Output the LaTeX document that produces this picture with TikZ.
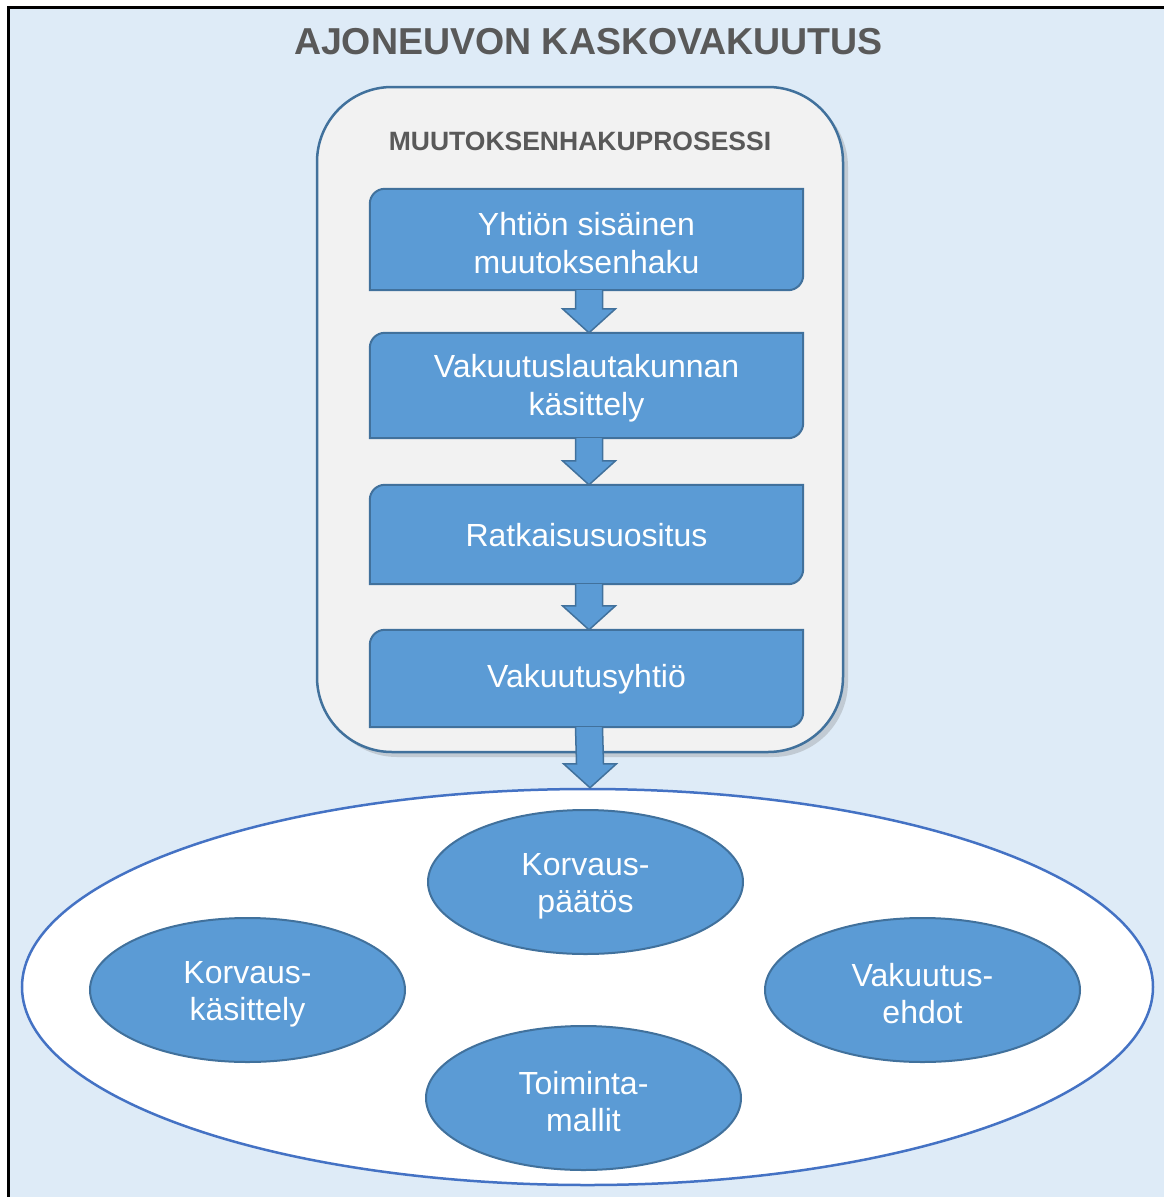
\documentclass[tikz,border=0pt]{standalone}
\usepackage{fontspec}
\setmainfont{Liberation Sans}
\usetikzlibrary{shapes.geometric,shadows,calc}
\definecolor{bgblue}{RGB}{222,235,247}
\definecolor{panelgray}{RGB}{242,242,242}
\definecolor{boxblue}{RGB}{91,155,213}
\definecolor{boxline}{RGB}{65,113,156}
\definecolor{ringline}{RGB}{68,114,196}
\definecolor{titlegray}{RGB}{89,89,89}
\tikzset{
  boxtext/.style={inner sep=0pt,minimum width=433pt,align=center,text=white,font=\fontsize{32}{38}\selectfont},
  boxshape/.style={fill=boxblue,draw=boxline,line width=2pt},
  blockarrow/.style={fill=boxblue,draw=boxline,line width=1.5pt,line join=miter},
  ovalnode/.style={ellipse,fill=boxblue,draw=boxline,line width=2pt,minimum width=315pt,minimum height=144pt,inner sep=0pt},
  ovaltext/.style={align=center,text=white,inner sep=0pt,font=\fontsize{32}{37}\selectfont}
}
\begin{document}
\begin{tikzpicture}[x=1pt,y=-1pt]
			\useasboundingbox (0,0) rectangle (1164,1197);
			
			%Background frame
			\fill[bgblue] (8,7) rectangle (1164,1197);
			\draw[line width=3pt] (8,1197) -- (8,7) -- (1164,7);
			
			% Title
			\node[text=titlegray,font=\fontsize{37.5}{44}\bfseries] (title) at (588.5,42) {AJONEUVON KASKOVAKUUTUS};
			
			%Rounded panel
			\node[draw=boxline,fill=panelgray,line width=2.5pt,rounded corners=75pt,minimum width=526pt,minimum height=665pt,drop shadow={opacity=0.3,shadow xshift=5pt,shadow yshift=-5pt}] (panel) at (580,419.5) {};
			\node[text=titlegray,font=\fontsize{26.5}{30}\bfseries] (subtitle) at (580,141) {MUUTOKSENHAKUPROSESSI};
			
			% Process boxes
			\node[boxtext,minimum height=101pt] (yhtio) at (586.5,239.5) {};
			\node[boxtext,minimum height=105pt] (lauta) at (586.5,385.5) {};
			\node[boxtext,minimum height=99pt] (ratk) at (586.5,534.5) {};
			\node[boxtext,minimum height=97pt] (yhtiot) at (586.5,678.5) {};
			\foreach \b in {yhtio,lauta,ratk,yhtiot}{
				\draw[boxshape] (\b.south west) -- ($(\b.north west)+(0,15)$) .. controls ($(\b.north west)+(0,6.7)$) and ($(\b.north west)+(6.7,0)$) .. ($(\b.north west)+(15,0)$) -- (\b.north east) -- ($(\b.south east)+(0,-15)$) .. controls ($(\b.south east)+(0,-6.7)$) and ($(\b.south east)+(-6.7,0)$) .. ($(\b.south east)+(-15,0)$) -- cycle;
			}
			\node[boxtext] (yhtio-t) at ($(yhtio)+(0,4)$) {Yhtiön sisäinen\\muutoksenhaku};
			\node[boxtext] (lauta-t) at ($(lauta)+(0,3)$) {Vakuutuslautakunnan\\käsittely};
			\node[boxtext] (ratk-t) at ($(ratk)+(0,1)$) {Ratkaisusuositus};
			\node[boxtext] (yhtiot-t) at ($(yhtiot)+(0,1)$) {Vakuutusyhtiö};
			
			% Outer ring
			\node[ellipse,fill=white,draw=ringline,line width=2.5pt,minimum width=1131pt,minimum height=396pt] (ring) at (587.5,987) {};
			
			% Block arrows
			\foreach \a/\b in {yhtio/lauta,lauta/ratk,ratk/yhtiot,yhtiot/ring}{
				\draw[blockarrow] ($(\a.south)+(-11,0)$) -- ($(\b.north)+(-11,-24)$) -- ($(\b.north)+(-24,-24)$) -- ($(\b.north)+(2.5,0)$) -- ($(\b.north)+(29,-24)$) -- ($(\b.north)+(16,-24)$) -- ($(\a.south)+(16,0)$);
			}
			
			% Inner ellipses
			\node[ovalnode] (paatos) at (585.5,882) {};
			\node[ovalnode] (kasittely) at (247.5,990) {};
			\node[ovalnode] (ehdot) at (922.5,990) {};
			\node[ovalnode] (mallit) at (583.5,1098) {};
			\node[ovaltext] (paatos-t) at ($(paatos)+(0,4)$) {Korvaus-\\päätös};
			\node[ovaltext] (kasittely-t) at ($(kasittely)+(0,4)$) {Korvaus-\\käsittely};
			\node[ovaltext] (ehdot-t) at ($(ehdot)+(0,4)$) {Vakuutus-\\ehdot};
			\node[ovaltext] (mallit-t) at ($(mallit)+(0,4)$) {Toiminta-\\mallit};
			
\end{tikzpicture}
\end{document}
